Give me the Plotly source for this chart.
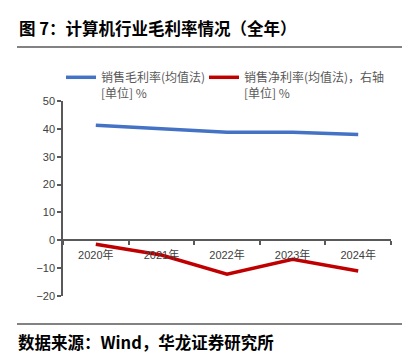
import plotly.graph_objects as go

years = ["2020年", "2021年", "2022年", "2023年", "2024年"]
gross_margin = [41.3, 39.9, 38.8, 38.8, 38.0]
net_margin = [-1.4, -5.3, -12.2, -6.8, -11.0]
name_gross = "销售毛利率(均值法)<br>[单位] %"
name_net = "销售净利率(均值法)，右轴<br>[单位] %"
title_text = "图 7：计算机行业毛利率情况（全年）"
source_text = "数据来源：Wind，华龙证券研究所"

W, H = 402, 357
L, R, T, B = 63, 11, 101, 61
ymin, ymax = -20, 50

fig = go.Figure()
fig.add_trace(go.Scatter(x=years, y=gross_margin, mode="lines", name=name_gross,
                         line=dict(color="#4472C4", width=3.5), legend="legend"))
fig.add_trace(go.Scatter(x=years, y=net_margin, mode="lines", name=name_net, yaxis="y2",
                         line=dict(color="#C00000", width=3.5), legend="legend2"))

axis_color = "#595959"
tick_font = dict(family="Liberation Sans, Arial, Noto Sans CJK SC", size=11, color="#404040")
leg_font = dict(family="Noto Sans CJK SC", size=12, color="#595959")


def legend_at(x_px):
    return dict(xref="container", yref="container", x=x_px / W, y=1 - 63 / H,
                xanchor="left", yanchor="top", valign="top", font=leg_font,
                itemwidth=30, bgcolor="rgba(0,0,0,0)", borderwidth=0)


fig.update_layout(
    width=W, height=H,
    margin=dict(l=L, r=R, t=T, b=B, autoexpand=False),
    paper_bgcolor="white", plot_bgcolor="white",
    showlegend=True,
    legend=legend_at(61),
    legend2=legend_at(204),
    xaxis=dict(type="category", anchor="free", position=(0 - ymin) / (ymax - ymin),
               showline=True, linecolor=axis_color, linewidth=1.5,
               ticks="outside", tickson="boundaries", ticklen=4, tickcolor=axis_color,
               tickwidth=1.5, showgrid=False, zeroline=False, tickfont=tick_font,
               ticklabelstandoff=5, range=[-0.5, 4.5]),
    yaxis=dict(range=[ymin, ymax], dtick=10, showline=True, linecolor=axis_color,
               linewidth=1.5, ticks="outside", ticklen=4, tickcolor=axis_color,
               tickwidth=1.5, showgrid=False, zeroline=False, tickfont=tick_font),
    yaxis2=dict(range=[ymin, ymax], overlaying="y", side="right", visible=False),
)

pw, ph = W - L - R, H - T - B
fig.add_annotation(text="<b>" + title_text + "</b>", xref="paper", yref="paper",
                   x=(17 - L) / pw, y=1 + (T - 28) / ph,
                   xanchor="left", yanchor="middle", showarrow=False,
                   font=dict(family="Noto Sans CJK SC", size=16.5, color="#000000"))
fig.add_annotation(text="<b>" + source_text + "</b>", xref="paper", yref="paper",
                   x=(16 - L) / pw, y=-(342 - (H - B)) / ph,
                   xanchor="left", yanchor="middle", showarrow=False,
                   font=dict(family="Noto Sans CJK SC", size=16.5, color="#000000"))
for yy in (47, 324):
    fig.add_shape(type="line", xref="paper", yref="paper",
                  x0=(17 - L) / pw, x1=(402 - L) / pw,
                  y0=1 + (T - yy) / ph, y1=1 + (T - yy) / ph,
                  line=dict(color="#595959", width=1.5))

fig.write_html("out.html", config={"displayModeBar": False},
               post_script="document.body.style.margin='0';document.body.style.overflow='hidden';")
